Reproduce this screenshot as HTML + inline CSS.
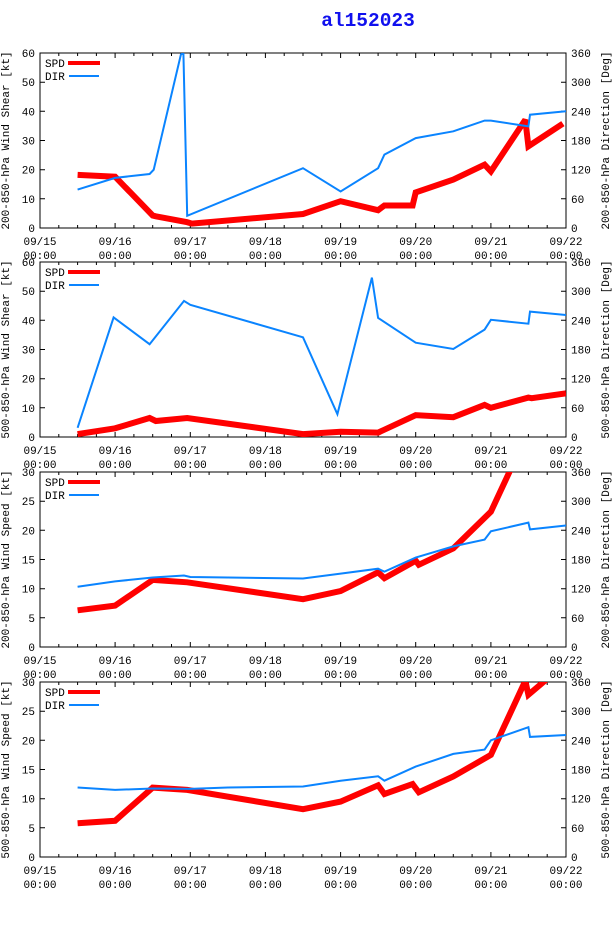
<!DOCTYPE html>
<html><head><meta charset="utf-8">
<style>
html,body{margin:0;padding:0;background:#fff;}
svg{display:block;}
text{font-family:"Liberation Mono","DejaVu Sans Mono",monospace;font-size:11px;fill:#000;}
</style></head>
<body>
<svg id="chart" width="614" height="936" viewBox="0 0 614 936" xmlns="http://www.w3.org/2000/svg">
<text x="368" y="26" text-anchor="middle" style="font-size:19.5px;font-weight:bold;fill:#1010ee;font-family:'Liberation Mono',monospace">al152023</text>
</svg>
<script>
// x-axis: hours since 09/15 00:00
const xTickLabels = ["09/15","09/16","09/17","09/18","09/19","09/20","09/21","09/22"];
// Panel 1: 200-850 hPa wind shear
const p1SpdHours = [12,24,36,37,47,48.5,84,96,108,110,119,120,132,142,144,155,156,167];
const p1SpdVals  = [18.2,17.6,4.3,4.0,2.0,1.5,4.8,9.2,6.1,7.7,7.7,12.2,16.6,21.7,19.4,37.1,28,35.8];
const p1DirHours = [12,24,35,36.3,45,45.8,47,84,96,108,110,120,132,142,144,156,156.5,168];
const p1DirVals  = [79,103,111,120,357,360,25,123,75,123,151,185,199,221,221,209,233,240];
// Panel 2: 500-850 hPa wind shear
const p2SpdHours = [12,24,35,37,47,84,96,108,120,132,142,144,156,157,168];
const p2SpdVals  = [1,3,6.5,5.5,6.5,1,1.8,1.5,7.5,6.8,11,10,13.5,13.3,15];
const p2DirHours = [12,23.5,35,46,48,84,95,106,108,120,132,142,144,156,156.5,168];
const p2DirVals  = [19,246,191,280,272,205,47,328,245,194,181,221,241,233,258,251];
// Panel 3: 200-850 hPa wind speed
const p3SpdHours = [12,24,36,47,84,96,108,110,120,121,132,144,156];
const p3SpdVals  = [6.3,7.1,11.5,11.1,8.2,9.6,12.8,11.8,14.8,14.1,16.9,23.2,37];
const p3DirHours = [12,24,36,46,48,60,84,96,108,110,120,132,142,144,156,156.5,168];
const p3DirVals  = [124,135,143,147,144,143,141,151,161,155,184,207,221,238,256,242,250];
// Panel 4: 500-850 hPa wind speed
const p4SpdHours = [12,24,36,47,84,96,108,110,119,121,132,144,155,156,163];
const p4SpdVals  = [5.8,6.2,11.9,11.5,8.2,9.5,12.3,10.8,12.5,11.1,13.8,17.5,30.2,27.8,31];
const p4DirHours = [12,24,36,48,60,84,96,108,110,120,132,142,144,156,156.5,168];
const p4DirVals  = [143,138,141,140,143,145,157,166,157,186,212,221,240,267,247,251];

const panels = [
 {top:53,  ymax:60, yticks:[0,10,20,30,40,50,60], left:"200-850-hPa Wind Shear [kt]", right:"200-850-hPa Direction [Deg]", sh:p1SpdHours, sv:p1SpdVals, dh:p1DirHours, dv:p1DirVals},
 {top:262, ymax:60, yticks:[0,10,20,30,40,50,60], left:"500-850-hPa Wind Shear [kt]", right:"500-850-hPa Direction [Deg]", sh:p2SpdHours, sv:p2SpdVals, dh:p2DirHours, dv:p2DirVals},
 {top:472, ymax:30, yticks:[0,5,10,15,20,25,30], left:"200-850-hPa Wind Speed [kt]", right:"200-850-hPa Direction [Deg]", sh:p3SpdHours, sv:p3SpdVals, dh:p3DirHours, dv:p3DirVals},
 {top:682, ymax:30, yticks:[0,5,10,15,20,25,30], left:"500-850-hPa Wind Speed [kt]", right:"500-850-hPa Direction [Deg]", sh:p4SpdHours, sv:p4SpdVals, dh:p4DirHours, dv:p4DirVals}
];
const dirTicks = [0,60,120,180,240,300,360];
const X0=40, X1=566, H=175, NS="http://www.w3.org/2000/svg";
const svg=document.getElementById('chart');
function mk(tag,attrs,parent){const e=document.createElementNS(NS,tag);for(const k in attrs)e.setAttribute(k,attrs[k]);(parent||svg).appendChild(e);return e;}
const xs=h=>X0+h*(X1-X0)/168;

panels.forEach((p,i)=>{
  const g=mk('g',{});
  
  
  const B=p.top+H;
  const ys=v=>B-v*H/p.ymax;
  const yd=v=>B-v*H/360;
  const cp=mk('clipPath',{id:'cp'+i},g);
  mk('rect',{x:X0,y:p.top,width:X1-X0,height:H},cp);
  let d='';
  for(let h=0;h<=168;h+=6){const x=xs(h).toFixed(1);const L=(h%24==0)?5:3;d+=`M${x},${B}v-${L}M${x},${p.top}v${L}`;}
  p.yticks.forEach(v=>{const y=ys(v).toFixed(1);d+=`M${X0},${y}h5`;});
  dirTicks.forEach(v=>{const y=yd(v).toFixed(1);d+=`M${X1},${y}h-5`;});
  const tk=mk('path',{d:d,stroke:'#000','stroke-width':1,fill:'none'},g);
  
  
  const fr=mk('rect',{x:X0,y:p.top,width:X1-X0,height:H,fill:'none',stroke:'#000','stroke-width':1},g);
  
  
  p.yticks.forEach(v=>{const t=mk('text',{x:35,y:ys(v)+4,'text-anchor':'end'},g);t.textContent=v;
    
    });
  dirTicks.forEach(v=>{const t=mk('text',{x:571,y:yd(v)+4},g);t.textContent=v;
    
    });
  xTickLabels.forEach((lab,k)=>{const x=xs(k*24);
    const t=mk('text',{x:x,y:B+17,'text-anchor':'middle'},g);t.textContent=lab;
    
    
    const t2=mk('text',{x:x,y:B+31,'text-anchor':'middle'},g);t2.textContent='00:00';
    
    });
  const cy=p.top+H/2;
  const lt=mk('text',{x:0,y:0,'text-anchor':'middle',transform:`translate(9,${cy}) rotate(-90)`},g);lt.textContent=p.left;
  
  
  const rt=mk('text',{x:0,y:0,'text-anchor':'middle',transform:`translate(609,${cy}) rotate(-90)`},g);rt.textContent=p.right;
  
  
  const sp=p.sh.map((h,k)=>xs(h).toFixed(1)+','+ys(p.sv[k]).toFixed(1)).join(' ');
  const dp=p.dh.map((h,k)=>xs(h).toFixed(1)+','+yd(p.dv[k]).toFixed(1)).join(' ');
  const s1=mk('polyline',{points:sp,fill:'none',stroke:'#ff0000','stroke-width':6,'stroke-linejoin':'miter','stroke-miterlimit':2,'clip-path':`url(#cp${i})`},g);
  
  
  const s2=mk('polyline',{points:dp,fill:'none',stroke:'#0a84ff','stroke-width':2,'clip-path':`url(#cp${i})`},g);
  
  
  const l1=mk('text',{x:45,y:p.top+14},g);l1.textContent='SPD';
  
  
  const l1l=mk('line',{x1:68,x2:100,y1:p.top+10,y2:p.top+10,stroke:'#ff0000','stroke-width':4},g);
  
  
  const l2=mk('text',{x:45,y:p.top+27},g);l2.textContent='DIR';
  
  
  const l2l=mk('line',{x1:69,x2:99,y1:p.top+23,y2:p.top+23,stroke:'#0a84ff','stroke-width':2},g);
  
  
});
</script>
</body></html>
